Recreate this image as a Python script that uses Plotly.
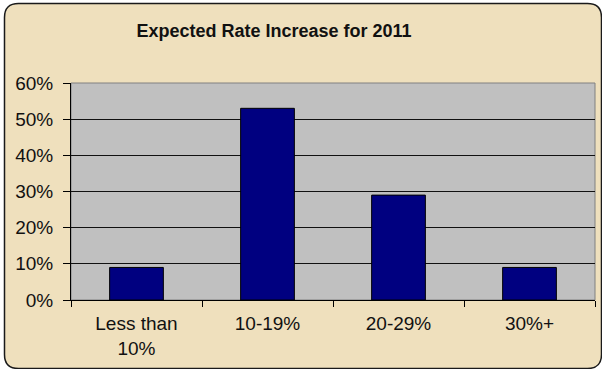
import plotly.graph_objects as go

# Survey results: share of respondents by expected rate increase
categories = ["Less than<br>10%", "10-19%", "20-29%", "30%+"]
shares = [0.09, 0.53, 0.29, 0.09]
y_ticks = [0, 0.1, 0.2, 0.3, 0.4, 0.5, 0.6]
y_tick_labels = ["0%", "10%", "20%", "30%", "40%", "50%", "60%"]
title_text = "Expected Rate Increase for 2011"

W, H = 602, 369
ML, MR, MT, MB = 71, 7, 83, 69
PW, PH = W - ML - MR, H - MT - MB


def px_x(v):
    return (v - ML) / PW


def px_y(v):
    return (H - MB - v) / PH


# Rounded outer frame, in paper units
x0, x1, y0, y1, r = 4.5, 601.5, 3.5, 368.5, 14


def rounded_path():
    pts = [
        ("M", x0 + r, y0), ("L", x1 - r, y0), ("Q", x1, y0, x1, y0 + r),
        ("L", x1, y1 - r), ("Q", x1, y1, x1 - r, y1),
        ("L", x0 + r, y1), ("Q", x0, y1, x0, y1 - r),
        ("L", x0, y0 + r), ("Q", x0, y0, x0 + r, y0),
    ]
    out = []
    for p in pts:
        cmd = p[0]
        coords = p[1:]
        s = []
        for i in range(0, len(coords), 2):
            s.append(f"{px_x(coords[i]):.5f},{px_y(coords[i + 1]):.5f}")
        out.append(cmd + " ".join(s))
    return " ".join(out) + " Z"


fig = go.Figure(
    go.Bar(
        x=categories,
        y=shares,
        marker=dict(color="#000080", line=dict(color="#000000", width=1)),
        width=0.41,
    )
)

fig.update_layout(
    width=W,
    height=H,
    margin=dict(l=ML, r=MR, t=MT, b=MB, pad=0),
    paper_bgcolor="#ffffff",
    plot_bgcolor="rgba(0,0,0,0)",
    showlegend=False,
    bargap=0.59,
    font=dict(family="Liberation Sans, Arial, sans-serif", color="#111111"),
    title=dict(
        text="<b>" + title_text + "</b>",
        font=dict(size=18, color="#111111"),
        x=(133 + 415) / 2 / W,
        xanchor="center",
        y=1 - 31 / H,
        yanchor="middle",
    ),
    shapes=[
        dict(
            type="path", xref="paper", yref="paper", path=rounded_path(),
            fillcolor="#EFE0BD", line=dict(color="#1a1a1a", width=1.5), layer="below",
        ),
        dict(
            type="rect", xref="paper", yref="paper", x0=0, x1=1, y0=0, y1=1,
            fillcolor="#C0C0C0", line=dict(color="#808080", width=1), layer="below",
        ),
    ],
)

fig.update_xaxes(
    type="category",
    showgrid=False,
    showline=True,
    linecolor="#000000",
    linewidth=1,
    ticks="outside",
    tickson="boundaries",
    ticklen=6,
    tickcolor="#000000",
    tickfont=dict(size=19),
    ticklabelstandoff=6,
    fixedrange=True,
)

fig.update_yaxes(
    range=[0, 0.6],
    tickvals=y_ticks,
    ticktext=y_tick_labels,
    showgrid=True,
    gridcolor="#111111",
    gridwidth=1,
    zeroline=False,
    showline=True,
    linecolor="#000000",
    linewidth=1,
    ticks="outside",
    ticklen=7,
    tickcolor="#000000",
    tickfont=dict(size=19),
    ticklabelstandoff=6,
    fixedrange=True,
)

fig.write_html("out.html", config={"displayModeBar": False})
